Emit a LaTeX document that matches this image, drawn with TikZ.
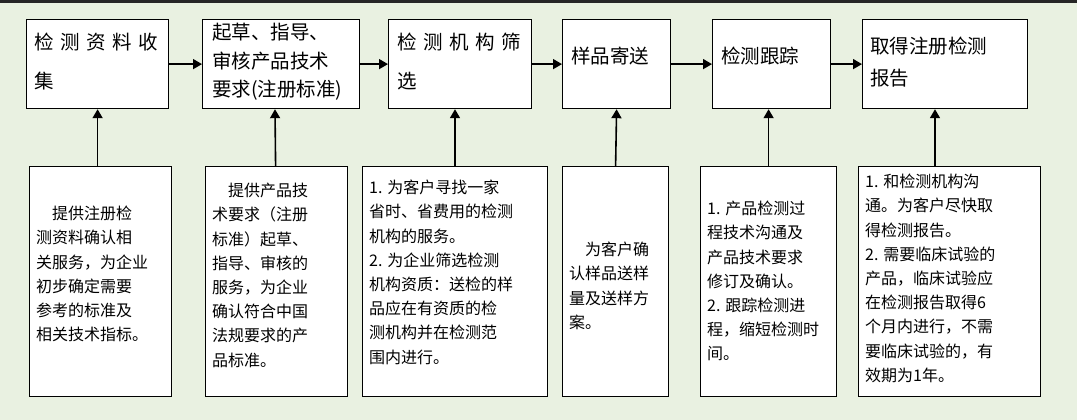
\documentclass[tikz,border=0pt]{standalone}
\usepackage{fontspec}
\setmainfont{Noto Sans CJK SC}
\usetikzlibrary{arrows.meta}
\definecolor{bg}{HTML}{E9F1E1}
\begin{document}
\begin{tikzpicture}[x=1pt,y=-1pt,
 top/.style={draw,line width=1.2pt,fill=white,anchor=north west,inner sep=0pt},
 bot/.style={draw,line width=1.2pt,fill=white,anchor=north west,inner sep=0pt},
 ttx/.style={anchor=north west,font=\fontsize{19.5}{28.5}\selectfont,align=left,inner sep=0pt},
 btx/.style={anchor=north west,font=\fontsize{16}{24.2}\selectfont,align=left,inner sep=0pt},
 arr/.style={line width=1.6pt,-{Triangle[length=9pt,width=10pt]}}]
\fill[bg] (0,0) rectangle (1077,420);
\fill[black!85] (0,0) rectangle (1077,3);
% top boxes
\node[top,minimum width=142,minimum height=89] (t1) at (26,19) {};
\node[top,minimum width=157,minimum height=89] (t2) at (202,19) {};
\node[top,minimum width=143,minimum height=89] (t3) at (388,19) {};
\node[top,minimum width=108,minimum height=89] (t4) at (562,19) {};
\node[top,minimum width=118,minimum height=89] (t5) at (712,19) {};
\node[top,minimum width=165,minimum height=89] (t6) at (862,19) {};
\node[ttx] (x1) at (34,33) {检\,\,测\,\,资\,\,料\,\,收\\[10pt]集};
\node[ttx] (x2) at (212,23) {起草、指导、\\审核产品技术\\要求(注册标准)};
\node[ttx] (x3) at (397,33) {检\,\,测\,\,机\,\,构\,\,筛\\[10pt]选};
\node[ttx] (x4) at (571,47) {样品寄送};
\node[ttx] (x5) at (721,47) {检测跟踪};
\node[ttx] (x6) at (870,37) {取得注册检测\\[3pt]报告};
% bottom boxes
\node[bot,minimum width=142,minimum height=230] (b1) at (29,166) {};
\node[bot,minimum width=142,minimum height=230] (b2) at (205,166) {};
\node[bot,minimum width=185,minimum height=230] (b3) at (362,166) {};
\node[bot,minimum width=106,minimum height=230] (b4) at (562,166) {};
\node[bot,minimum width=136,minimum height=230] (b5) at (700,166) {};
\node[bot,minimum width=182,minimum height=230] (b6) at (858,166) {};
\node[btx] (y1) at (36,206) {\quad 提供注册检\\测资料确认相\\关服务，为企业\\初步确定需要\\参考的标准及\\相关技术指标。};
\node[btx] (y2) at (212,183) {\quad 提供产品技\\术要求（注册\\标准）起草、\\指导、审核的\\服务，为企业\\确认符合中国\\法规要求的产\\品标准。};
\node[btx] (y3) at (369,180) {1. 为客户寻找一家\\省时、省费用的检测\\机构的服务。\\2. 为企业筛选检测\\机构资质：送检的样\\品应在有资质的检\\测机构并在检测范\\围内进行。};
\node[btx] (y4) at (569,242) {\quad 为客户确\\认样品送样\\量及送样方\\案。};
\node[btx] (y5) at (707,201) {1. 产品检测过\\程技术沟通及\\产品技术要求\\修订及确认。\\2. 跟踪检测进\\程，缩短检测时\\间。};
\node[btx] (y6) at (865,174) {1. 和检测机构沟\\通。为客户尽快取\\得检测报告。\\2. 需要临床试验的\\产品，临床试验应\\在检测报告取得6\\个月内进行，不需\\要临床试验的，有\\效期为1年。};
% arrows
\draw[arr] (t1.east) -- (t2.west);
\draw[arr] (t2.east) -- (t3.west);
\draw[arr] (t3.east) -- (t4.west);
\draw[arr] (t4.east) -- (t5.west);
\draw[arr] (t5.east) -- (t6.west);
\draw[arr] (b1.north -| t1.south) -- (t1.south);
\draw[arr] (b2.north) ++(-1,0) -- (t2.south -| 275,0);
\draw[arr] (455,166) -- (t3.south -| 455,0);
\draw[arr] (b4.north) -- (t4.south);
\draw[arr] (b5.north) -- (t5.south -| b5.north);
\draw[arr] (935,166) -- (t6.south -| 935,0);
\end{tikzpicture}
\end{document}
